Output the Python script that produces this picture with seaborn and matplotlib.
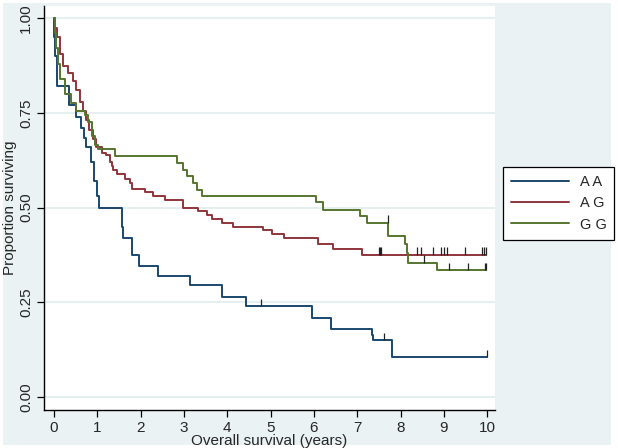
import numpy as np
import pandas as pd
import matplotlib.pyplot as plt
import seaborn as sns
from matplotlib.patches import Rectangle
from matplotlib.lines import Line2D

sns.set_style('white')
plt.rcParams['font.family'] = ['Liberation Sans Narrow', 'Liberation Sans', 'DejaVu Sans']

# Kaplan-Meier steps (time in years, proportion surviving)
aa_time = [0, 0.01, 0.03, 0.06, 0.34, 0.52, 0.63, 0.70, 0.75, 0.85, 0.93, 0.99, 1.05,
           1.56, 1.60, 1.79, 1.97, 2.39, 3.14, 3.87, 4.43, 5.95, 6.39, 7.33, 7.36, 7.80, 10.0]
aa_surv = [1.0, 0.95, 0.90, 0.82, 0.77, 0.74, 0.71, 0.685, 0.66, 0.62, 0.57, 0.53, 0.50,
           0.45, 0.42, 0.375, 0.345, 0.32, 0.295, 0.265, 0.24, 0.21, 0.18, 0.165, 0.15, 0.105, 0.105]
aa_censor = [4.77, 7.62, 10.0]

ag_time = [0, 0.02, 0.08, 0.13, 0.21, 0.32, 0.44, 0.52, 0.59, 0.67, 0.75, 0.82, 0.90, 0.98,
           1.10, 1.21, 1.29, 1.33, 1.37, 1.45, 1.64, 1.76, 1.79, 2.10, 2.29, 2.56, 2.97, 3.33,
           3.53, 3.64, 3.87, 4.14, 4.83, 5.03, 5.30, 6.10, 6.45, 7.11, 9.97]
ag_surv = [1.0, 0.975, 0.95, 0.905, 0.875, 0.855, 0.835, 0.81, 0.78, 0.755, 0.73, 0.705, 0.68, 0.66,
           0.645, 0.64, 0.62, 0.61, 0.60, 0.59, 0.575, 0.565, 0.55, 0.54, 0.53, 0.52, 0.50, 0.49,
           0.48, 0.47, 0.46, 0.45, 0.44, 0.43, 0.42, 0.405, 0.39, 0.375, 0.375]
ag_censor = [7.50, 7.53, 7.56, 8.38, 8.47, 8.76, 8.94, 9.01, 9.07, 9.48, 9.88, 9.92, 9.97]

gg_time = [0, 0.02, 0.05, 0.09, 0.15, 0.25, 0.40, 0.52, 0.71, 0.79, 0.88, 0.94, 1.02, 1.42,
           2.85, 2.97, 3.08, 3.22, 3.30, 3.42, 6.05, 6.22, 7.07, 7.23, 7.72, 8.11, 8.14, 8.18,
           8.84, 9.98]
gg_surv = [1.0, 0.96, 0.92, 0.88, 0.84, 0.80, 0.775, 0.755, 0.745, 0.725, 0.69, 0.665, 0.655, 0.637,
           0.618, 0.60, 0.583, 0.565, 0.546, 0.53, 0.515, 0.495, 0.478, 0.46, 0.425, 0.405, 0.38, 0.355,
           0.335, 0.335]
gg_censor = [7.71, 8.53, 9.11, 9.55, 9.95, 9.98]

groups = ['A A', 'A G', 'G G']
colors = {'A A': '#1A476F', 'A G': '#90353B', 'G G': '#55752F'}

x_ticks = list(range(0, 11))
y_ticks = [0.0, 0.25, 0.5, 0.75, 1.0]

# Сборка длинной таблицы для seaborn
series = {'A A': (aa_time, aa_surv, aa_censor),
          'A G': (ag_time, ag_surv, ag_censor),
          'G G': (gg_time, gg_surv, gg_censor)}
frames = []
for name in groups:
    t, s, _ = series[name]
    frames.append(pd.DataFrame({'time': t, 'surv': s, 'genotype': name}))
df = pd.concat(frames, ignore_index=True)

fig = plt.figure(figsize=(6.18, 4.48), dpi=100, facecolor='white')
fig.patches.append(Rectangle((3 / 618, 3 / 448), 608 / 618, 442 / 448, transform=fig.transFigure,
                             facecolor='#EAF2F3', edgecolor='none', zorder=-10))
ax = fig.add_axes([44 / 618, 38 / 448, 451 / 618, 404 / 448])
ax.set_facecolor('white')

sns.lineplot(data=df, x='time', y='surv', hue='genotype', palette=colors, estimator=None,
             sort=False, drawstyle='steps-post', linewidth=1.4, legend=False, ax=ax)

# Цензурированные наблюдения
for name in groups:
    t, s, c = series[name]
    idx = np.searchsorted(t, c, side='right') - 1
    ys = np.array(s)[idx]
    ax.vlines(c, ys, ys + 0.02, color='#222222', linewidth=0.9, zorder=3)

ax.set_xlim(-0.23, 10.18)
ax.set_ylim(-0.034, 1.032)
ax.set_xticks(x_ticks)
ax.set_yticks(y_ticks)
ax.set_yticklabels([f'{v:.2f}' for v in y_ticks], rotation=90, va='center')
ax.tick_params(axis='both', direction='out', length=5, width=0.9, color='black',
               labelsize=11, pad=3, left=True, bottom=True)
ax.yaxis.grid(True, color='#E2ECEE', linewidth=1.2)
ax.xaxis.grid(False)
for side in ['top', 'right']:
    ax.spines[side].set_visible(False)
for side in ['left', 'bottom']:
    ax.spines[side].set_color('black')
    ax.spines[side].set_linewidth(1.0)

ax.set_xlabel('Overall survival (years)', fontsize=11, labelpad=-1)
ax.set_ylabel('Proportion surviving', fontsize=11, labelpad=1)

handles = [Line2D([0], [0], color=colors[g], lw=1.4) for g in groups]
leg = fig.legend(handles, groups, loc='upper left', bbox_to_anchor=(503 / 618, 1 - 167 / 448),
                 frameon=True, fancybox=False, edgecolor='black', facecolor='white', framealpha=1,
                 fontsize=10.5, handlelength=4.0, labelspacing=0.5, borderpad=0.55,
                 handletextpad=0.7, borderaxespad=0)
leg.get_frame().set_linewidth(0.9)

fig.savefig('out.png', dpi=100, facecolor=fig.get_facecolor())
